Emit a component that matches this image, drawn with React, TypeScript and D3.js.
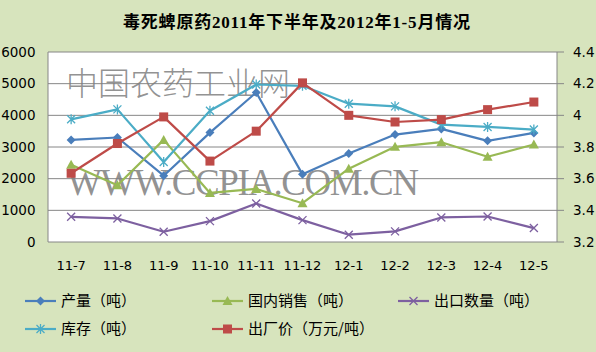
import React from "react";
import * as d3 from "d3";

const categories = ["11-7", "11-8", "11-9", "11-10", "11-11", "11-12", "12-1", "12-2", "12-3", "12-4", "12-5"];
const production = [3225, 3300, 2094, 3455, 4722, 2136, 2796, 3393, 3571, 3194, 3445];
const domesticSales = [2440, 1790, 3225, 1550, 1675, 1225, 2314, 3005, 3152, 2692, 3079];
const exportQty = [796, 743, 325, 660, 1215, 690, 230, 335, 775, 806, 440];
const inventory = [3874, 4188, 2524, 4147, 4974, 4932, 4367, 4283, 3707, 3634, 3550];
const exFactoryPrice = [3.634, 3.822, 3.99, 3.711, 3.9, 4.205, 4.0, 3.958, 3.973, 4.036, 4.084];
const leftTicks = [0, 1000, 2000, 3000, 4000, 5000, 6000];
const rightTicks = [3.2, 3.4, 3.6, 3.8, 4, 4.2, 4.4];

const W = 596, H = 352;
const P = { l: 48, r: 557, t: 52, b: 242 };
const FONT = "'Noto Sans CJK SC', 'Noto Sans', sans-serif";

type Marker = "diamond" | "triangle" | "x" | "star" | "square";
const series: { name: string; values: number[]; color: string; marker: Marker; right?: boolean }[] = [
  { name: "产量（吨）", values: production, color: "#4A7EBB", marker: "diamond" },
  { name: "国内销售（吨）", values: domesticSales, color: "#98B954", marker: "triangle" },
  { name: "出口数量（吨）", values: exportQty, color: "#7D60A0", marker: "x" },
  { name: "库存（吨）", values: inventory, color: "#4BACC6", marker: "star" },
  { name: "出厂价（万元/吨）", values: exFactoryPrice, color: "#BE4B48", marker: "square", right: true },
];

function MarkerShape({ type, x, y, color }: { type: Marker; x: number; y: number; color: string }) {
  if (type === "diamond") {
    const s = 4.5;
    return <path d={`M${x},${y - s}L${x + s},${y}L${x},${y + s}L${x - s},${y}Z`} fill={color} />;
  }
  if (type === "square") {
    return <rect x={x - 4.5} y={y - 4.5} width={9} height={9} fill={color} />;
  }
  if (type === "triangle") {
    return <path d={`M${x},${y - 5}L${x + 5},${y + 4}L${x - 5},${y + 4}Z`} fill={color} />;
  }
  if (type === "x") {
    const s = 4;
    return <path d={`M${x - s},${y - s}L${x + s},${y + s}M${x - s},${y + s}L${x + s},${y - s}`} stroke={color} strokeWidth={1.3} fill="none" />;
  }
  const s = 4;
  return (
    <path
      d={`M${x - s},${y - s}L${x + s},${y + s}M${x - s},${y + s}L${x + s},${y - s}M${x},${y - 5}L${x},${y + 5}`}
      stroke={color}
      strokeWidth={1.3}
      fill="none"
    />
  );
}

export default function App() {
  const x = d3.scaleBand<string>().domain(categories).range([P.l, P.r]);
  const yL = d3.scaleLinear().domain([0, 6000]).range([P.b, P.t]);
  const yR = d3.scaleLinear().domain([3.2, 4.4]).range([P.b, P.t]);
  const cx = (c: string) => (x(c) ?? 0) + x.bandwidth() / 2;

  const legendPos = [
    { x: 25, y: 301 },
    { x: 212, y: 301 },
    { x: 398, y: 301 },
    { x: 25, y: 329 },
    { x: 212, y: 329 },
  ];

  return (
    <svg width={W} height={H} style={{ position: "absolute", left: 0, top: 0 }} fontFamily={FONT}>
      <rect x={0} y={0} width={W} height={H} fill="#D7E4BD" />
      <rect x={P.l} y={P.t} width={P.r - P.l} height={P.b - P.t} fill="#FFFFFF" />
      {leftTicks.map((t) => (
        <line key={t} x1={P.l} x2={P.r + 7} y1={yL(t)} y2={yL(t)} stroke="#868686" strokeWidth={1} />
      ))}
      <line x1={P.l} x2={P.l} y1={P.t} y2={P.b} stroke="#868686" />
      <line x1={P.r} x2={P.r} y1={P.t} y2={P.b} stroke="#868686" />
      {/* watermark */}
      <text x={66} y={95} fontSize={32} fill="#7F7F7F" fillOpacity={0.85} fontFamily="'Noto Sans CJK SC', sans-serif" style={{ fontWeight: 300 }} textLength={224}>
        中国农药工业网
      </text>
      <text x={67} y={195} fontSize={37} fill="#7F7F7F" fillOpacity={0.85} fontFamily="'Liberation Serif', serif" textLength={352}>
        WWW.CCPIA.COM.CN
      </text>
      {series.map((s) => {
        const y = s.right ? yR : yL;
        const line = d3
          .line<number>()
          .x((_, i) => cx(categories[i]))
          .y((v) => y(v));
        return (
          <g key={s.name}>
            <path d={line(s.values) ?? ""} fill="none" stroke={s.color} strokeWidth={2.2} strokeLinejoin="round" />
            {s.values.map((v, i) => (
              <MarkerShape key={i} type={s.marker} x={cx(categories[i])} y={y(v)} color={s.color} />
            ))}
          </g>
        );
      })}
      {leftTicks.map((t) => (
        <text key={t} x={35.5} y={yL(t)} dy="0.35em" textAnchor="end" fontSize={13.5} fill="#000" fontFamily="'DejaVu Sans', sans-serif">
          {t}
        </text>
      ))}
      {rightTicks.map((t) => (
        <text key={t} x={573} y={yR(t)} dy="0.35em" textAnchor="start" fontSize={13.5} fill="#000" fontFamily="'DejaVu Sans', sans-serif">
          {d3.format("~g")(t)}
        </text>
      ))}
      {categories.map((c) => (
        <text key={c} x={cx(c)} y={265} dy="0.35em" textAnchor="middle" fontSize={13} fill="#000" fontFamily="'DejaVu Sans', sans-serif">
          {c}
        </text>
      ))}
      <text x={123} y={28} fontSize={17} fontWeight="bold" fill="#000" fontFamily="'Liberation Serif', 'Noto Sans CJK SC', serif" textLength={347} lengthAdjust="spacing">
        毒死蜱原药2011年下半年及2012年1-5月情况
      </text>
      {series.map((s, i) => {
        const p = legendPos[i];
        return (
          <g key={s.name}>
            <line x1={p.x} x2={p.x + 31} y1={p.y} y2={p.y} stroke={s.color} strokeWidth={2.2} />
            <MarkerShape type={s.marker} x={p.x + 15.5} y={p.y} color={s.color} />
            <text x={p.x + 36} y={p.y} dy="0.35em" fontSize={15} fill="#000">
              {s.name}
            </text>
          </g>
        );
      })}
    </svg>
  );
}
